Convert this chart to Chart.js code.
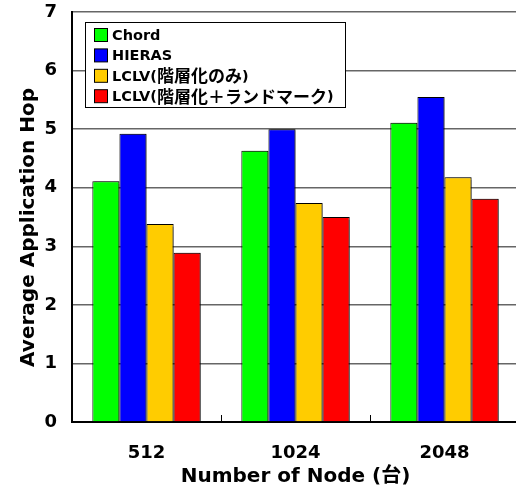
<!DOCTYPE html>
<html>
<head>
<meta charset="utf-8">
<script src="https://cdn.jsdelivr.net/npm/chart.js@4"></script>
<style>
  html, body { margin: 0; padding: 0; background: #fff; overflow: hidden; }
  #wrap { width: 519px; height: 491px; }
</style>
</head>
<body>
<div id="wrap"><canvas id="c" width="519" height="491"></canvas></div>
<script>
// Node counts on the x axis
const categories = ['512', '1024', '2048'];

// Average application hop count per method
const chordHops    = [4.11, 4.63, 5.11];
const hierasHops   = [4.92, 5.00, 5.55];
const lclvLayered  = [3.38, 3.74, 4.18];
const lclvLandmark = [2.89, 3.50, 3.81];

const seriesNames = ['Chord', 'HIERAS', 'LCLV(階層化のみ)', 'LCLV(階層化＋ランドマーク)'];
const seriesColors = ['#00ff00', '#0000ff', '#ffcc00', '#ff0000'];

const yTicks = [0, 1, 2, 3, 4, 5, 6, 7];

const FONT = "'DejaVu Sans', 'Noto Sans CJK JP', sans-serif";
const LATIN_FONT = "bold 14.5px 'DejaVu Sans', sans-serif";
const CJK_FONT = "bold 17px 'Noto Sans CJK JP', sans-serif";

// Soft grey drop shadow under the bars
const barShadow = {
  id: 'barShadow',
  beforeDatasetsDraw(chart) {
    const ctx = chart.ctx;
    ctx.save();
    ctx.shadowColor = 'rgba(0,0,0,0.45)';
    ctx.shadowOffsetX = 2;
    ctx.shadowOffsetY = 0;
    ctx.shadowBlur = 1;
  },
  afterDatasetsDraw(chart) {
    chart.ctx.restore();
  }
};

// Short upward ticks on the x axis between categories
const categoryTicks = {
  id: 'categoryTicks',
  afterDatasetsDraw(chart) {
    const x = chart.scales.x, ctx = chart.ctx;
    const bottom = chart.chartArea.bottom;
    ctx.save();
    ctx.strokeStyle = '#000';
    ctx.lineWidth = 1;
    for (let i = 0; i < categories.length - 1; i++) {
      const px = Math.round((x.getPixelForValue(i) + x.getPixelForValue(i + 1)) / 2) + 0.5;
      ctx.beginPath();
      ctx.moveTo(px, bottom);
      ctx.lineTo(px, bottom - 7);
      ctx.stroke();
    }
    ctx.restore();
  }
};

// Split a label into runs of ASCII and wide (Japanese) characters
function splitRuns(text) {
  const runs = [];
  for (const ch of text) {
    const wide = ch.charCodeAt(0) > 0x2000;
    const last = runs[runs.length - 1];
    if (last && last.wide === wide) last.text += ch;
    else runs.push({ text: ch, wide });
  }
  return runs;
}

// Framed legend box drawn inside the plot
const boxLegend = {
  id: 'boxLegend',
  afterDraw(chart) {
    const ctx = chart.ctx;
    const left = 85.5, top = 22.5, w = 260, h = 85;
    ctx.save();
    ctx.fillStyle = '#fff';
    ctx.fillRect(left, top, w, h);
    ctx.strokeStyle = '#000';
    ctx.lineWidth = 1;
    ctx.strokeRect(left, top, w, h);
    ctx.textBaseline = 'middle';
    chart.data.datasets.forEach((ds, i) => {
      const cy = 35 + i * 20.4;
      ctx.fillStyle = ds.backgroundColor;
      ctx.fillRect(94.5, cy - 6.5, 13, 13);
      ctx.strokeStyle = '#000';
      ctx.strokeRect(94.5, cy - 6.5, 13, 13);
      ctx.fillStyle = '#000';
      let tx = 112;
      splitRuns(ds.label).forEach(run => {
        ctx.font = run.wide ? CJK_FONT : LATIN_FONT;
        ctx.fillText(run.text, tx, cy + (run.wide ? 0 : 1));
        tx += ctx.measureText(run.text).width;
      });
    });
    ctx.restore();
  }
};

const seriesData = [chordHops, hierasHops, lclvLayered, lclvLandmark];

new Chart(document.getElementById('c'), {
  type: 'bar',
  data: {
    labels: categories,
    datasets: seriesData.map((d, i) => ({
      label: seriesNames[i],
      data: d,
      backgroundColor: seriesColors[i],
      borderColor: '#000',
      borderWidth: 1,
      borderSkipped: 'bottom'
    }))
  },
  options: {
    responsive: false,
    animation: false,
    devicePixelRatio: 1,
    layout: { padding: { top: 12, left: 0, right: 0, bottom: 0 } },
    categoryPercentage: 0.727,
    barPercentage: 1.0,
    plugins: {
      legend: { display: false },
      tooltip: { enabled: false }
    },
    scales: {
      x: {
        grid: { display: false, drawTicks: false },
        border: { display: true, color: '#000', width: 2 },
        ticks: {
          color: '#000',
          padding: 21,
          font: { family: FONT, size: 18, weight: 'bold' }
        },
        title: {
          display: true,
          text: 'Number of Node (台)',
          color: '#000',
          padding: { top: 0, bottom: 2 },
          font: { family: FONT, size: 20, weight: 'bold' }
        },
        afterFit(scale) {
          scale.height = 69;
          scale.paddingLeft = 0;
          scale.paddingRight = 0;
        }
      },
      y: {
        min: 0,
        max: 7,
        afterBuildTicks(scale) { scale.ticks = yTicks.map(v => ({ value: v })); },
        grid: { color: '#666', lineWidth: 1.5, drawTicks: false },
        border: { display: true, color: '#000', width: 2 },
        ticks: {
          color: '#000',
          padding: 15,
          font: { family: FONT, size: 18, weight: 'bold' }
        },
        title: {
          display: true,
          text: 'Average Application Hop   ',
          color: '#000',
          padding: { top: 17, bottom: 0 },
          font: { family: FONT, size: 20, weight: 'bold' }
        },
        afterFit(scale) {
          scale.width = 72;
          scale.paddingTop = 0;
          scale.paddingBottom = 0;
        }
      }
    }
  },
  plugins: [barShadow, categoryTicks, boxLegend]
});
</script>
</body>
</html>
